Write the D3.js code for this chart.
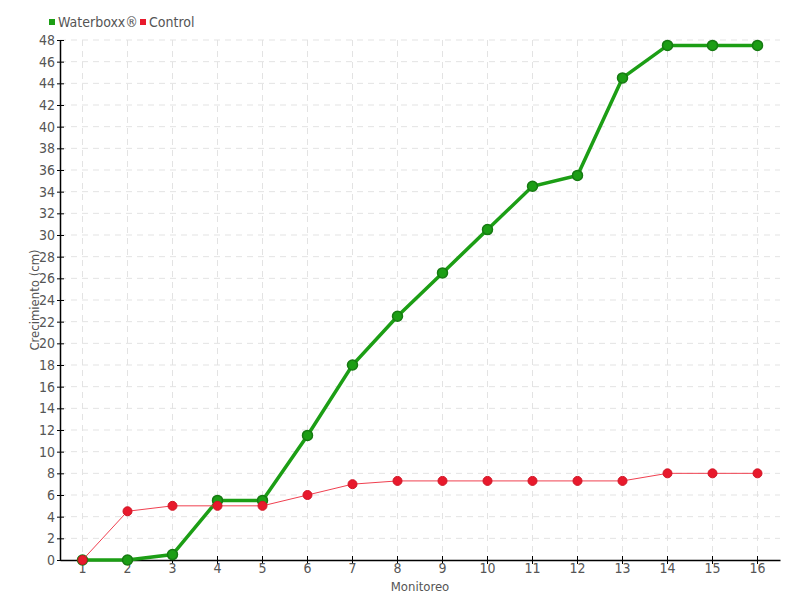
<!DOCTYPE html>
<html>
<head>
<meta charset="utf-8">
<script src="https://cdn.jsdelivr.net/npm/d3@7"></script>
<style>
  body { margin: 0; background: #fff; }
  text { font-family: "DejaVu Sans Condensed", "Liberation Sans Narrow", sans-serif; fill: #555; }
</style>
</head>
<body>
<svg id="chart" width="800" height="600"></svg>
<script>
const monitoreos = [1, 2, 3, 4, 5, 6, 7, 8, 9, 10, 11, 12, 13, 14, 15, 16];
const waterboxx = [0, 0, 0.5, 5.5, 5.5, 11.5, 18, 22.5, 26.5, 30.5, 34.5, 35.5, 44.5, 47.5, 47.5, 47.5];
const control = [0, 4.5, 5, 5, 5, 6, 7, 7.3, 7.3, 7.3, 7.3, 7.3, 7.3, 8, 8, 8];
const yTicks = d3.range(0, 49, 2);

const width = 800, height = 600;
const margin = { top: 40, right: 20, bottom: 40, left: 60 };

const svg = d3.select("#chart");

const x = d3.scaleBand()
    .domain(monitoreos)
    .range([margin.left, width - margin.right]);
const cx = d => x(d) + x.bandwidth() / 2;

const y = d3.scaleLinear()
    .domain([0, 48])
    .range([height - margin.bottom, margin.top]);

// grid
svg.append("g")
  .selectAll("line")
  .data(yTicks.slice(1))
  .join("line")
    .attr("x1", margin.left)
    .attr("x2", width - margin.right)
    .attr("y1", d => y(d))
    .attr("y2", d => y(d))
    .style("stroke", "#e3e3e3")
    .style("stroke-dasharray", "6,5");

svg.append("g")
  .selectAll("line")
  .data(monitoreos)
  .join("line")
    .attr("x1", d => cx(d))
    .attr("x2", d => cx(d))
    .attr("y1", margin.top)
    .attr("y2", height - margin.bottom)
    .style("stroke", "#e3e3e3")
    .style("stroke-dasharray", "6,5");

// axes
const xAxis = svg.append("g")
    .attr("transform", `translate(0,${height - margin.bottom})`)
    .call(d3.axisBottom(x).tickSize(4).tickSizeOuter(0));
const yAxis = svg.append("g")
    .attr("transform", `translate(${margin.left},0)`)
    .call(d3.axisLeft(y).tickValues(yTicks).tickSize(4).tickSizeOuter(0));

[xAxis, yAxis].forEach(g => {
  g.attr("font-family", null);
  g.select(".domain").style("stroke", "#000").style("stroke-width", 1.5);
  g.selectAll(".tick line").style("stroke", "#000");
  g.selectAll(".tick text").style("font-size", "14px").style("fill", "#555");
});
xAxis.selectAll(".tick line").attr("y1", -4);
xAxis.selectAll(".tick text").attr("y", 3);
yAxis.selectAll(".tick line").attr("x2", 4).attr("x1", -3);
yAxis.selectAll(".tick text").attr("x", -5);

svg.append("text")
    .attr("x", (margin.left + width - margin.right) / 2)
    .attr("y", 591)
    .attr("text-anchor", "middle")
    .style("font-size", "13px")
    .text("Monitoreo");

svg.append("text")
    .attr("transform", `translate(39,${(margin.top + height - margin.bottom) / 2}) rotate(-90)`)
    .attr("text-anchor", "middle")
    .style("font-size", "13px")
    .text("Crecimiento (cm)");

// series
const line = d3.line()
    .x((d, i) => cx(monitoreos[i]))
    .y(d => y(d));

svg.append("path")
    .datum(waterboxx)
    .attr("d", line)
    .style("fill", "none")
    .style("stroke", "#1c9e15")
    .style("stroke-width", 3.5);

svg.append("g")
  .selectAll("circle")
  .data(waterboxx)
  .join("circle")
    .attr("cx", (d, i) => cx(monitoreos[i]))
    .attr("cy", d => y(d))
    .attr("r", 5)
    .style("fill", "#1c9e15")
    .style("stroke", "#167a12")
    .style("stroke-width", 1.5);

svg.append("path")
    .datum(control)
    .attr("d", line)
    .style("fill", "none")
    .style("stroke", "#f04050")
    .style("stroke-width", 1);

svg.append("g")
  .selectAll("circle")
  .data(control)
  .join("circle")
    .attr("cx", (d, i) => cx(monitoreos[i]))
    .attr("cy", d => y(d))
    .attr("r", 4.5)
    .style("fill", "#e8192c")
    .style("stroke", "#d01525")
    .style("stroke-width", 1);

// legend
const legend = svg.append("g").attr("transform", "translate(49,22)");
const items = [{ name: "Waterboxx®", color: "#1c9e15", dx: 0 }, { name: "Control", color: "#e8192c", dx: 91 }];
items.forEach(it => {
  const g = legend.append("g").attr("transform", `translate(${it.dx},0)`);
  g.append("rect").attr("x", 0).attr("y", -3).attr("width", 6).attr("height", 6).style("fill", it.color);
  g.append("text").attr("x", 9).attr("y", 5).style("font-size", "14px").text(it.name);
});
</script>
</body>
</html>
